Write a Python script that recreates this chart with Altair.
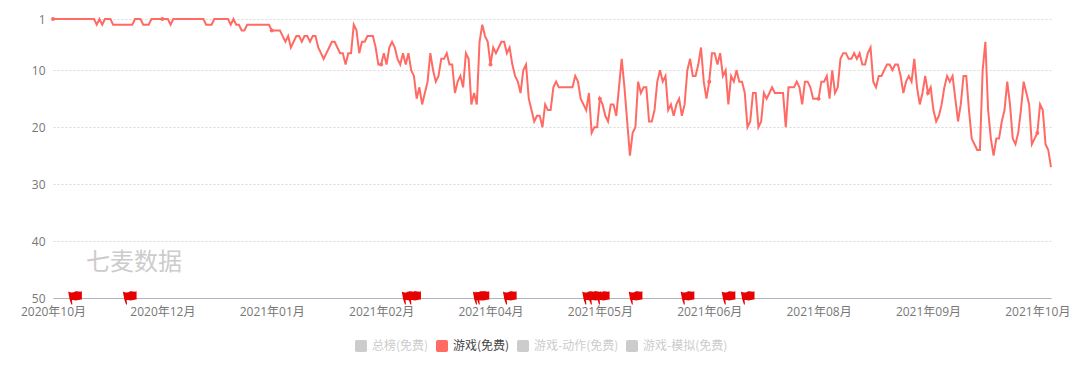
import altair as alt
import pandas as pd

ranks = [
 1,1,1,1,1,1,1,1,1,1,1,1,1,1,1,1,2,1,2,1,1,1,2,2,2,2,2,2,2,2,
 1,1,1,2,2,2,1,1,1,1,1,1,1,2,1,1,1,1,1,1,1,1,1,1,1,1,2,2,2,1,
 1,1,1,1,1,2,1,2,2,3,3,2,2,2,2,2,2,2,2,2,3,3,3,3,4,5,4,6,5,4,
 4,5,4,4,5,4,4,6,7,8,7,6,5,5,6,7,7,9,7,7,2,3,7,5,5,4,4,4,6,9,
 9,7,9,6,5,6,8,9,7,9,7,10,11,15,13,16,14,12,7,10,12,11,8,8,7,9,
 9,14,12,11,13,7,8,16,14,16,5,2,4,5,9,6,7,6,5,5,7,6,9,11,12,14,
 10,9,15,17,19,18,18,20,16,17,17,13,12,13,13,13,13,13,13,11,12,15,16,17,14,21,20,20,15,16,
 18,19,16,16,18,13,8,13,19,25,21,20,12,14,13,13,19,19,17,12,10,12,11,17,16,18,16,15,18,16,
 10,8,11,11,9,6,12,15,12,7,7,9,7,11,10,16,11,12,10,12,12,14,20,19,14,14,20,19,14,15,
 14,13,14,14,14,14,20,13,13,13,12,13,16,12,12,13,15,15,15,12,12,11,15,10,14,13,8,7,7,8,
 8,7,8,7,9,9,7,6,12,13,11,11,10,9,9,10,9,9,11,14,12,11,12,8,13,16,14,11,14,13,
 17,19,18,16,13,11,12,11,15,19,16,11,11,17,22,23,24,24,10,5,17,22,25,22,22,19,17,12,16,22,
 23,21,17,12,14,16,23,22,21,16,17,23,24,27,
]
flag_days = [8, 28, 130, 132, 156, 157, 167, 196, 198, 201, 213, 232, 247, 254]
tick_days = [0, 40, 80, 120, 160, 200, 240, 280, 320, 360]
tick_labels = ["2020年10月", "2020年12月", "2021年01月", "2021年02月", "2021年04月",
               "2021年05月", "2021年06月", "2021年08月", "2021年09月", "2021年10月"]
y_ticks = [1, 10, 20, 30, 40, 50]
series_names = ["总榜(免费)", "游戏(免费)", "游戏-动作(免费)", "游戏-模拟(免费)"]
series_colors = ["#ccc", "#ff6b64", "#ccc", "#ccc"]
active = series_names[1]

font = "Open Sans, Noto Sans CJK SC"
cjk = "Noto Sans CJK SC"
df = pd.DataFrame({"day": range(len(ranks)), "rank": ranks, "series": active})
dots = df[df["day"] % 40 == 0]
flags = pd.DataFrame({"day": flag_days, "rank": 50})

label_map = "{" + ",".join(f"{d}:'{l}'" for d, l in zip(tick_days, tick_labels)) + "}"
xs = alt.Scale(domain=[0, len(ranks) - 1], nice=False, zero=False)
ys = alt.Scale(domain=[1, 50], reverse=True, nice=False, zero=False)
cs = alt.Scale(domain=series_names, range=series_colors)

x_axis = alt.Axis(values=tick_days, labelExpr=f"({label_map})[datum.value]", title=None, grid=False,
                  ticks=False, domainColor="#aeb5c0", domainWidth=1, labelColor="#777",
                  labelFont=font, labelFontSize=12, labelPadding=8, labelOverlap=False, labelFlush=False)
y_axis = alt.Axis(values=y_ticks, title=None, ticks=False, domain=False, grid=True,
                  gridColor="#d8d8d8", gridDash=[2, 2], gridWidth=1, labelColor="#777",
                  labelFont=font, labelFontSize=12, labelPadding=8)

rounded = "M-0.7,-1H0.7Q1,-1,1,-0.7V0.7Q1,1,0.7,1H-0.7Q-1,1,-1,0.7V-0.7Q-1,-1,-0.7,-1Z"
legend = alt.Legend(orient="none", legendX=302, legendY=321, direction="horizontal",
                    title=None, symbolType=rounded, symbolSize=144, symbolStrokeWidth=0,
                    labelFont=cjk, labelFontSize=12, labelOffset=5,
                    labelColor=alt.expr(f"datum.label == '{active}' ? '#444' : '#ccc'"),
                    columnPadding=7, labelLimit=200)

points = alt.Chart(dots).mark_point(filled=True, size=16, opacity=1).encode(
    x=alt.X("day:Q", scale=xs, axis=x_axis),
    y=alt.Y("rank:Q", scale=ys, axis=y_axis),
    color=alt.Color("series:N", scale=cs, legend=legend),
)

line = alt.Chart(df).mark_line(strokeWidth=2, interpolate="linear").encode(
    x=alt.X("day:Q", scale=xs),
    y=alt.Y("rank:Q", scale=ys),
    color=alt.Color("series:N", scale=cs, legend=None),
)

flag_path = ("M-0.96,-0.92C-0.6,-0.7,-0.2,-0.75,0.1,-0.95C0.45,-1,0.75,-0.8,1,-0.95"
             "L1,0.25C0.65,0.15,0.3,0.5,-0.2,0.3L-0.42,0.3L-0.36,0.92L-0.5,0.92L-0.75,0.2Z")
flag = alt.Chart(flags).mark_point(filled=True, shape=flag_path, size=196, color="#e60000", opacity=1,
                                   clip=False).encode(
    x=alt.X("day:Q", scale=xs),
    y=alt.Y("rank:Q", scale=ys),
)

watermark = alt.Chart(pd.DataFrame({"t": ["七麦数据"]})).mark_text(
    font=cjk, fontSize=24, color="#ccc", align="left", baseline="middle"
).encode(text="t:N", x=alt.value(33), y=alt.value(244))

chart = alt.layer(points, line, watermark, flag).properties(
    width=998, height=279,
    autosize=alt.AutoSizeParams(type="none"),
    padding={"left": 45, "top": 11, "right": 21, "bottom": 59},
).configure_view(stroke=None)

chart.save("out.html", embed_options={"renderer": "svg", "actions": False})
